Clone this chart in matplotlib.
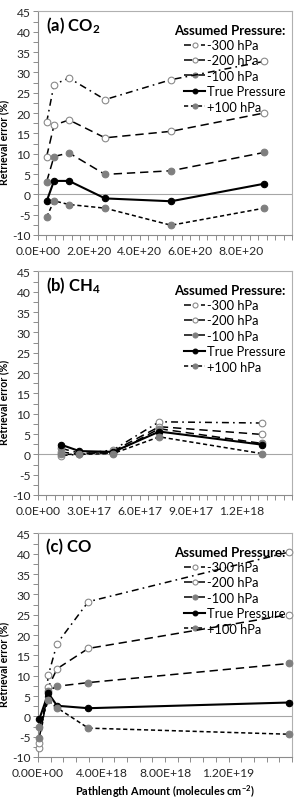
import matplotlib
matplotlib.use("Agg")
import matplotlib.pyplot as plt
from matplotlib.ticker import MultipleLocator, FixedLocator, FuncFormatter
import numpy as np

plt.rcParams['font.family'] = ['Lato', 'DejaVu Sans']
plt.rcParams['mathtext.fontset'] = 'custom'
plt.rcParams['mathtext.rm'] = 'Lato'
plt.rcParams['mathtext.bf'] = 'Lato:bold'
plt.rcParams['mathtext.it'] = 'Lato:italic'
plt.rcParams['axes.unicode_minus'] = False
plt.rcParams['lines.scale_dashes'] = False

# ---- data ----
series_names = ['-300 hPa', '-200 hPa', '-100 hPa', 'True Pressure', '+100 hPa']

co2_x = [3.4e19, 6.3e19, 1.22e20, 2.64e20, 5.24e20, 8.9e20]
co2_m300 = [17.7, 27.0, 28.6, 23.3, 28.2, 32.7]
co2_m200 = [9.3, 17.0, 18.3, 13.9, 15.5, 20.0]
co2_m100 = [3.1, 9.3, 10.2, 4.9, 5.8, 10.3]
co2_true = [-1.7, 3.3, 3.3, -1.0, -1.7, 2.6]
co2_p100 = [-5.6, -1.6, -2.5, -3.4, -7.6, -3.4]

ch4_x = [1.34e17, 2.44e17, 4.44e17, 7.16e17, 1.32e18]
ch4_m300 = [-0.3, 0.0, 1.1, 8.0, 7.7]
ch4_m200 = [0.6, 0.0, 0.8, 6.8, 4.9]
ch4_m100 = [1.5, 0.3, 0.3, 6.3, 2.7]
ch4_true = [2.4, 0.8, 0.6, 5.6, 2.4]
ch4_p100 = [0.0, 0.0, 0.2, 4.3, 0.2]

co_x = [8e16, 6.5e17, 1.2e18, 3.17e18, 1.58e19]
co_m300 = [-7.8, 10.1, 17.9, 28.2, 40.4]
co_m200 = [-6.6, 7.2, 11.7, 16.7, 25.0]
co_m100 = [-5.3, 6.3, 7.4, 8.3, 13.0]
co_true = [-0.7, 5.7, 2.6, 2.0, 3.4]
co_p100 = [-2.5, 3.9, 2.1, -2.9, -4.4]

# ---- styles ----
open_c = dict(marker='o', mfc='white', mec='#8a8a8a', mew=0.8, ms=4.8)
gray_c = dict(marker='o', mfc='#7f7f7f', mec='#7f7f7f', mew=0.8, ms=4.8)
black_c = dict(marker='o', mfc='black', mec='black', mew=0.8, ms=4.6)
styles = [
    dict(color='black', lw=1.1, ls=(0, (5, 3, 1.2, 3)), **open_c),
    dict(color='black', lw=1.1, ls=(0, (6, 3.5)), **open_c),
    dict(color='black', lw=1.1, ls=(0, (6, 3.5)), **gray_c),
    dict(color='black', lw=1.5, ls='-', **black_c),
    dict(color='black', lw=1.1, ls=(0, (3, 2)), **gray_c),
]

axis_col = '#8c8c8c'


def draw_panel(ax, x, ys, xmax, xmajor, nminor, fmt, title):
    for y, name, st in zip(ys, series_names, styles):
        ax.plot(x, y, label=name, zorder=3, clip_on=False, **st)
    ax.axhline(0, color='#a6a6a6', lw=0.8, zorder=1)
    ax.set_xlim(0, xmax)
    ax.set_ylim(-10, 45)
    ax.yaxis.set_major_locator(MultipleLocator(5))
    ax.yaxis.set_minor_locator(MultipleLocator(2.5))
    ax.xaxis.set_major_locator(FixedLocator(np.arange(0, xmax * 0.999, xmajor)))
    ax.xaxis.set_minor_locator(MultipleLocator(xmajor / nminor))
    ax.xaxis.set_major_formatter(FuncFormatter(lambda v, p: fmt.format(v)))
    for s in ax.spines.values():
        s.set_color('#b0b0b0')
        s.set_linewidth(0.8)
    ax.spines['left'].set_color(axis_col)
    ax.spines['bottom'].set_color(axis_col)
    ax.tick_params(which='both', direction='out', length=3.5, width=0.7,
                   color=axis_col, labelsize=8.7, labelcolor='#262626', pad=2)
    ax.tick_params(axis='x', which='both', pad=4)
    ax.tick_params(top=False, right=False)
    ax.set_ylabel('Retrieval error (%)', fontsize=7.6, fontweight='bold')
    ax.yaxis.set_label_coords(-0.112, 0.42)
    ax.text(0.03, 0.942, title, transform=ax.transAxes, fontsize=12,
            fontweight='bold', va='center', ha='left')
    leg = ax.legend(loc='upper right', bbox_to_anchor=(1.01, 0.985),
                    frameon=False, fontsize=9.3, title='Assumed Pressure:',
                    title_fontproperties={'weight': 'bold', 'size': 9.5},
                    alignment='right', handlelength=1.6, handletextpad=0.15,
                    labelspacing=0.26, borderpad=0.2, markerscale=0.75)
    leg.set_zorder(2)


fig = plt.figure(figsize=(2.96, 8.03), dpi=100)
L, W, H = 38 / 296, 254 / 296, 0.2785
ax_a = fig.add_axes([L, 1 - 236 / 803, W, H])
ax_b = fig.add_axes([L, 1 - 496 / 803, W, H])
ax_c = fig.add_axes([L, 1 - 758 / 803, W, H])

draw_panel(ax_a, co2_x, [co2_m300, co2_m200, co2_m100, co2_true, co2_p100],
           1e21, 2e20, 6, '{:.1E}', r'(a) CO$_{\mathbf{2}}$')
draw_panel(ax_b, ch4_x, [ch4_m300, ch4_m200, ch4_m100, ch4_true, ch4_p100],
           1.5e18, 3e17, 6, '{:.1E}', r'(b) CH$_{\mathbf{4}}$')
draw_panel(ax_c, co_x, [co_m300, co_m200, co_m100, co_true, co_p100],
           1.6e19, 4e18, 5, '{:.2E}', '(c) CO')

ax_c.set_xlabel(r'Pathlength Amount (molecules cm$^{\mathbf{-2}}$)',
                fontsize=7.8, fontweight='bold', labelpad=3)

fig.savefig('out.png', dpi=100)
